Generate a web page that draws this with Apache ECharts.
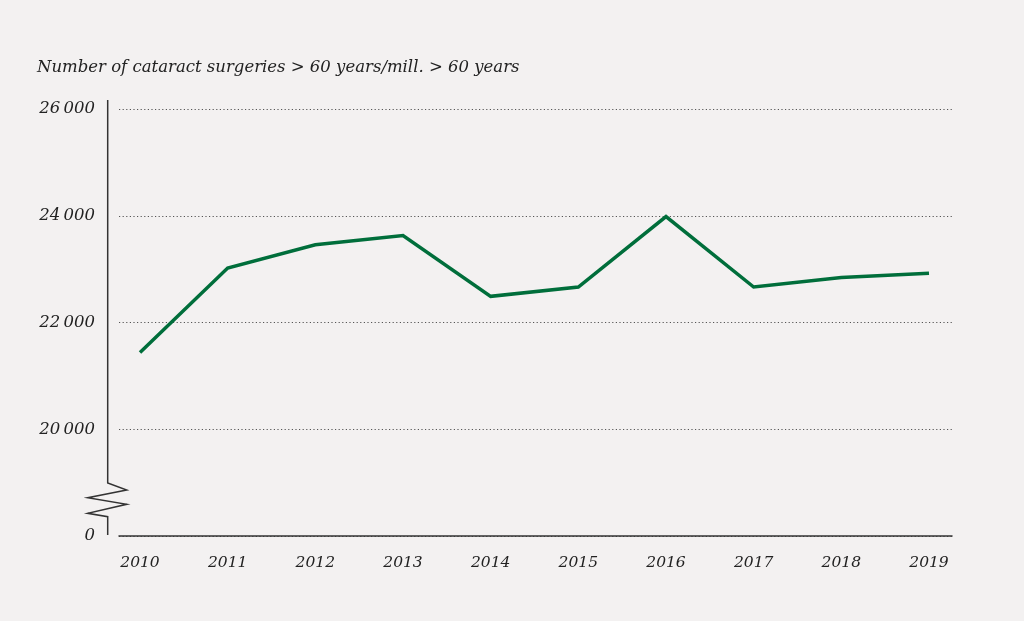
<!DOCTYPE html>
<html>
<head>
<meta charset="utf-8">
<script src="https://cdn.jsdelivr.net/npm/echarts@6/dist/echarts.min.js"></script>
<style>
html,body{margin:0;padding:0;background:#f3f1f1;}
#c{width:1024px;height:621px;}
</style>
</head>
<body>
<div id="c"></div>
<script>
const years = ['2010','2011','2012','2013','2014','2015','2016','2017','2018','2019'];
const surgeries = [21440, 23020, 23455, 23630, 22490, 22665, 23985, 22665, 22845, 22925];
const yTicks = [18000, 20000, 22000, 24000, 26000];
const axisBreakValue = 18000; // shown as 0 (broken axis)
const titleText = 'Number of cataract surgeries > 60 years/mill. > 60 years';

const fontFam = '"DejaVu Serif", "Liberation Serif", serif';
const chart = echarts.init(document.getElementById('c'));
const fmt = v => v === axisBreakValue ? '0' : String(v).replace(/(\d)(?=(\d{3})+$)/g, '$1\u2009');
const gTop = 109, gBottom = 85;
chart.setOption({
  backgroundColor: '#f3f1f1',
  animation: false,
  title: {
    text: titleText, left: 37, top: 59, padding: 0,
    textStyle: {fontFamily: fontFam, fontStyle: 'italic', fontWeight: 'normal', fontSize: 16.5, color: '#222'}
  },
  grid: [
    {left: 119, right: 72, top: gTop, bottom: gBottom},
    {left: 140, right: 95, top: gTop, bottom: gBottom}
  ],
  xAxis: [
    {type: 'value', gridIndex: 0, min: 0, max: 1, show: true,
     axisLine: {show: true, lineStyle: {color: '#333', width: 1.5}},
     axisTick: {show: false}, axisLabel: {show: false}, splitLine: {show: false}},
    {type: 'category', gridIndex: 1, data: years, boundaryGap: false,
     axisLine: {show: false}, axisTick: {show: false},
     axisLabel: {margin: 19, fontFamily: fontFam, fontStyle: 'italic', fontSize: 15.5, color: '#222'}}
  ],
  yAxis: [
    {type: 'value', gridIndex: 0, min: yTicks[0], max: yTicks[yTicks.length-1], interval: 2000,
     axisLine: {show: false}, axisTick: {show: false},
     axisLabel: {margin: 24, formatter: fmt, fontFamily: fontFam, fontStyle: 'italic', fontSize: 16.5, color: '#222'},
     splitLine: {show: true, lineStyle: {color: '#555', type: [1.2, 2.4], width: 1}}},
    {type: 'value', gridIndex: 1, min: yTicks[0], max: yTicks[yTicks.length-1], interval: 2000, show: false,
     splitLine: {show: false}}
  ],
  graphic: [{
    type: 'polyline', silent: true,
    shape: {points: [[107.7,100],[107.7,483],[126.7,490],[87.7,497.7],[126.7,504.3],[87.7,513.3],[107.7,516.7],[107.7,535]]},
    style: {stroke: '#333', lineWidth: 1.5, fill: null}
  }],
  series: [{
    type: 'line', xAxisIndex: 1, yAxisIndex: 1, data: surgeries,
    symbol: 'none', lineStyle: {color: '#006e3b', width: 3.5, join: 'miter'}
  }]
});
</script>
</body>
</html>
